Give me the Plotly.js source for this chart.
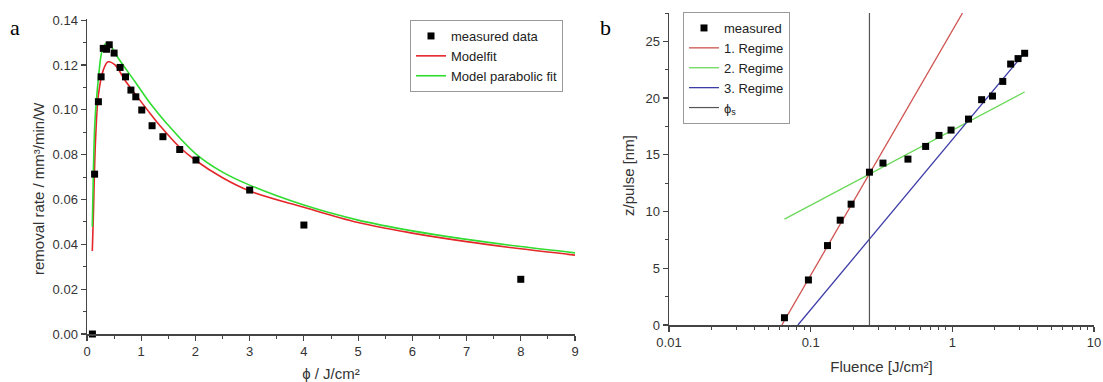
<!DOCTYPE html>
<html>
<head>
<meta charset="utf-8">
<script src="https://cdn.plot.ly/plotly-3.0.1.min.js"></script>
<style>
html,body{margin:0;padding:0;background:#fff;}
#chart{width:1103px;height:382px;}
</style>
</head>
<body>
<div id="chart"></div>
<script>
// ---- Panel a: removal rate vs fluence ----
var measuredPhi = [0.1, 0.14, 0.21, 0.26, 0.30, 0.36, 0.41, 0.50, 0.61, 0.71, 0.81, 0.90, 1.01, 1.20, 1.40, 1.71, 2.01, 3.0, 4.0, 8.0];
var measuredRate = [0.0, 0.0713, 0.1036, 0.1147, 0.1274, 0.1270, 0.1290, 0.1253, 0.1189, 0.1147, 0.1088, 0.1058, 0.0999, 0.0929, 0.0880, 0.0823, 0.0776, 0.0642, 0.0486, 0.0244];

var modelfitPhi = [0.098, 0.12, 0.135, 0.16, 0.21, 0.30, 0.39, 0.52, 0.70, 0.95, 1.19, 1.35, 1.70, 2.0, 2.5, 3.0, 4.0, 5.0, 6.0, 7.0, 8.0, 9.0];
var modelfitRate = [0.037, 0.055, 0.070, 0.088, 0.1066, 0.1177, 0.1214, 0.1199, 0.1132, 0.1051, 0.0976, 0.0928, 0.0835, 0.0775, 0.0697, 0.0638, 0.0565, 0.0497, 0.0450, 0.0412, 0.0380, 0.0352];

var parabolicPhi = [0.098, 0.12, 0.148, 0.21, 0.26, 0.30, 0.38, 0.58, 0.886, 1.19, 1.47, 2.0, 2.5, 3.0, 4.0, 5.0, 6.0, 7.0, 8.0, 9.0];
var parabolicRate = [0.0478, 0.075, 0.0954, 0.1140, 0.1244, 0.1280, 0.1300, 0.1229, 0.1125, 0.1021, 0.0939, 0.0805, 0.0722, 0.0664, 0.0575, 0.0508, 0.0460, 0.0422, 0.0390, 0.0362];

var aXTicks = [0, 1, 2, 3, 4, 5, 6, 7, 8, 9];
var aYTicks = [0, 0.02, 0.04, 0.06, 0.08, 0.10, 0.12, 0.14];

// ---- Panel b: depth per pulse vs fluence ----
var fluence = [0.0653, 0.0964, 0.1315, 0.1616, 0.193, 0.26, 0.324, 0.486, 0.648, 0.805, 0.979, 1.30, 1.61, 1.92, 2.27, 2.58, 2.91, 3.24];
var zPulse = [0.64, 3.97, 7.0, 9.24, 10.65, 13.47, 14.27, 14.62, 15.74, 16.71, 17.18, 18.15, 19.86, 20.18, 21.47, 23.0, 23.48, 23.95];

var regime1X = [0.0626, 1.18];
var regime1Y = [0, 27.5];
var regime2X = [0.0653, 3.24];
var regime2Y = [9.33, 20.54];
var regime3X = [0.0813, 3.24];
var regime3Y = [0, 24.0];
var phiS = [0.26, 0.26];
var phiSY = [0, 27.5];

var bXTicks = [0.01, 0.1, 1, 10];
var bXTickText = ['0.01', '0.1', '1', '10'];
var bXMinor = [0.02,0.03,0.04,0.05,0.06,0.07,0.08,0.09,0.2,0.3,0.4,0.5,0.6,0.7,0.8,0.9,2,3,4,5,6,7,8,9];
var bYTicks = [0, 5, 10, 15, 20, 25];

var FONT = 'Liberation Sans, Arial, sans-serif';
var W = 1103, H = 382;

var traces = [
  {x: modelfitPhi, y: modelfitRate, type: 'scatter', mode: 'lines', name: 'Modelfit',
   line: {color: '#e4262a', width: 1.6, shape: 'spline', smoothing: 1.0},
   xaxis: 'x', yaxis: 'y', legend: 'legend', legendrank: 2},
  {x: parabolicPhi, y: parabolicRate, type: 'scatter', mode: 'lines', name: 'Model parabolic fit',
   line: {color: '#2fdc2f', width: 1.6, shape: 'spline', smoothing: 1.0},
   xaxis: 'x', yaxis: 'y', legend: 'legend', legendrank: 3},
  {x: measuredPhi, y: measuredRate, type: 'scatter', mode: 'markers', name: 'measured data',
   marker: {symbol: 'square', size: 7, color: '#000'}, cliponaxis: false,
   xaxis: 'x', yaxis: 'y', legend: 'legend', legendrank: 1},

  {x: regime1X, y: regime1Y, type: 'scatter', mode: 'lines', name: '1. Regime',
   line: {color: '#cf5350', width: 1.3}, xaxis: 'x2', yaxis: 'y2', legend: 'legend2', legendrank: 2},
  {x: regime2X, y: regime2Y, type: 'scatter', mode: 'lines', name: '2. Regime',
   line: {color: '#6bd95a', width: 1.3}, xaxis: 'x2', yaxis: 'y2', legend: 'legend2', legendrank: 3},
  {x: regime3X, y: regime3Y, type: 'scatter', mode: 'lines', name: '3. Regime',
   line: {color: '#3c3ca8', width: 1.3}, xaxis: 'x2', yaxis: 'y2', legend: 'legend2', legendrank: 4},
  {x: phiS, y: phiSY, type: 'scatter', mode: 'lines', name: 'ϕ<sub>s</sub>',
   line: {color: '#555', width: 1.2}, xaxis: 'x2', yaxis: 'y2', legend: 'legend2', legendrank: 5},
  {x: fluence, y: zPulse, type: 'scatter', mode: 'markers', name: 'measured',
   marker: {symbol: 'square', size: 7, color: '#000'}, cliponaxis: false,
   xaxis: 'x2', yaxis: 'y2', legend: 'legend2', legendrank: 1}
];

var axisCommon = {
  showline: true, linecolor: '#444', linewidth: 1.5, mirror: false,
  ticks: 'outside', ticklen: 5, tickwidth: 1.2, tickcolor: '#444',
  showgrid: false, zeroline: false,
  tickfont: {family: FONT, size: 13, color: '#333'}
};
function ax(extra){ var o = JSON.parse(JSON.stringify(axisCommon)); for (var k in extra) o[k] = extra[k]; return o; }

var layout = {
  width: W, height: H,
  margin: {l: 0, r: 0, t: 0, b: 0},
  paper_bgcolor: '#fff', plot_bgcolor: '#fff',
  font: {family: FONT, color: '#333'},
  xaxis: ax({domain: [87/W, 575/W], range: [0, 9], anchor: 'y',
    tickmode: 'array', tickvals: aXTicks,
    minor: {ticks: 'outside', ticklen: 3, dtick: 0.5, tickcolor: '#444', tickwidth: 1},
    title: {text: 'ϕ / J/cm²', font: {family: FONT, size: 15, color: '#333'}, standoff: 10}}),
  yaxis: ax({domain: [1 - 334/H, 1 - 19/H], range: [0, 0.1405], anchor: 'x',
    tickmode: 'array', tickvals: aYTicks, tickformat: '.2f',
    minor: {ticks: 'outside', ticklen: 3, dtick: 0.01, tickcolor: '#444', tickwidth: 1}}),
  xaxis2: ax({domain: [669/W, 1094/W], type: 'log', range: [-2, 1], anchor: 'y2',
    tickmode: 'array', tickvals: bXTicks, ticktext: bXTickText,
    minor: {ticks: 'outside', ticklen: 3, tickmode: 'array', tickvals: bXMinor, tickcolor: '#444', tickwidth: 1},
    title: {text: 'Fluence [J/cm²]', font: {family: FONT, size: 15, color: '#333'}, standoff: 12}}),
  yaxis2: ax({domain: [1 - 325/H, 1 - 13/H], range: [0, 27.5], anchor: 'x2',
    tickmode: 'array', tickvals: bYTicks,
    minor: {ticks: 'outside', ticklen: 3, dtick: 2.5, tickcolor: '#444', tickwidth: 1}}),
  legend: {x: 410/W, y: 1 - 20/H, xanchor: 'left', yanchor: 'top',
    bgcolor: '#fff', bordercolor: '#999', borderwidth: 1,
    font: {family: FONT, size: 13, color: '#222'}, tracegroupgap: 0, itemwidth: 30},
  legend2: {x: 683/W, y: 1 - 12/H, xanchor: 'left', yanchor: 'top',
    bgcolor: '#fff', bordercolor: '#999', borderwidth: 1,
    font: {family: FONT, size: 13, color: '#222'}, tracegroupgap: 0, itemwidth: 30},
  annotations: [
    {text: 'a', xref: 'paper', yref: 'paper', x: 8/W, y: 1 - 28/H, xanchor: 'left', yanchor: 'middle',
     showarrow: false, font: {family: 'Liberation Serif, Times New Roman, serif', size: 22, color: '#000'}},
    {text: 'b', xref: 'paper', yref: 'paper', x: 598/W, y: 1 - 28/H, xanchor: 'left', yanchor: 'middle',
     showarrow: false, font: {family: 'Liberation Serif, Times New Roman, serif', size: 22, color: '#000'}},
    {text: 'removal rate / mm³/min/W', xref: 'paper', yref: 'paper', x: 38/W, y: 1 - 189/H,
     xanchor: 'center', yanchor: 'middle', textangle: -90, showarrow: false,
     font: {family: FONT, size: 15, color: '#333'}},
    {text: 'z/pulse [nm]', xref: 'paper', yref: 'paper', x: 628/W, y: 1 - 176/H,
     xanchor: 'center', yanchor: 'middle', textangle: -90, showarrow: false,
     font: {family: FONT, size: 15, color: '#333'}}
  ],
  showlegend: true
};

Plotly.newPlot('chart', traces, layout, {staticPlot: true, displayModeBar: false});
</script>
</body>
</html>
